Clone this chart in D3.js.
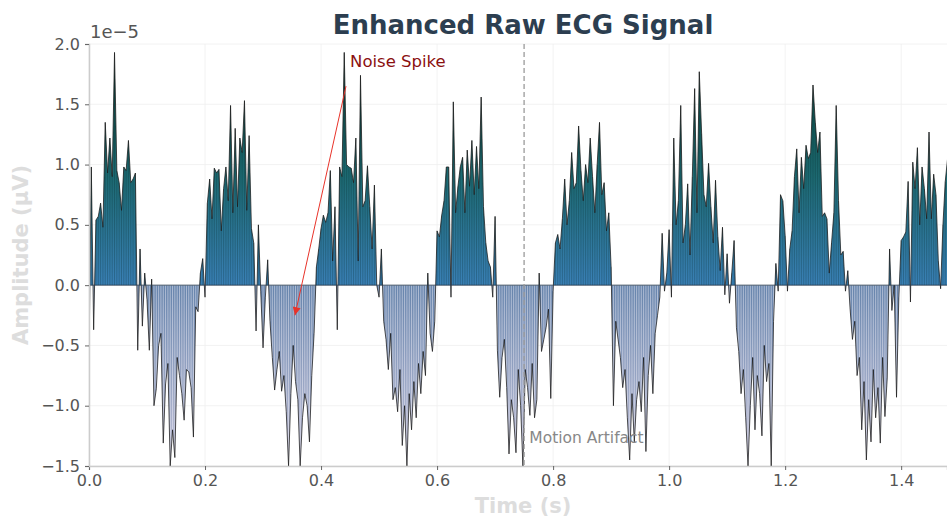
<!DOCTYPE html>
<html>
<head>
<meta charset="utf-8">
<script src="https://cdn.jsdelivr.net/npm/d3@7"></script>
<style>
  body { margin: 0; background: #fff; }
  text { font-family: "DejaVu Sans", sans-serif; }
</style>
</head>
<body>
<div id="chart"></div>
<script>
// sample spacing of the recording (250 Hz)
var sampleStep = 0.004;

// amplitude, in units of 1e-5 (one row per half cycle)
var amplitude = [
  -0.6, 0.98, -0.37, 0.54, 0.57, 0.68, 0.48, 1.35, 0.93, 1.22, 0.9, 1.93, 0.95, 0.85, 0.62, 0.98, 0.95, 1.2, 0.85, 0.88, 0.93,
  -0.54, 0.3, -0.34, 0.1, -0.12, -0.54, 0.05, -1.0, -0.86, -0.5, -0.4, -1.31, -0.82, -0.65, -1.5, -1.2, -1.43, -0.6, -0.75, -0.9, -1.12, -0.7, -0.72, -0.85, -1.26, -0.18, -0.22, 0.1,
  0.22, -0.1, 0.68, 0.88, 0.55, 0.97, 0.93, 0.96, 0.45, 0.8, 0.98, 0.7, 1.49, 0.6, 1.3, 0.65, 1.22, 1.1, 1.53, 0.62, 1.24, 0.47, 0.35,
  -0.38, 0.5, -0.05, -0.52, -0.1, 0.21, -0.3, -0.6, -0.87, -0.7, -0.55, -0.88, -0.75, -1.05, -1.5, -0.9, -0.5, -0.8, -0.95, -1.5, -1.1, -0.9, -1.0, -1.3, -0.75, -0.4,
  0.15, 0.3, 0.47, 0.58, 0.52, 0.6, 0.95, 0.2, 0.65, -0.37, 0.98, 0.9, 1.93, 1.0, 0.98, 0.97, 0.85, 1.22, 0.2, 1.74, 0.65, 0.7, 0.99, 0.65, 0.3, 0.83, 0.0, -0.1, 0.3, -0.3,
  -0.45, -0.7, -0.4, -0.95, -0.85, -1.05, -0.7, -1.33, -1.0, -1.5, -0.9, -1.2, -0.8, -1.1, -0.65, -0.9, -0.55, -0.75, 0.1, -0.4, -0.55, -0.3,
  0.45, 0.4, 0.58, 0.7, 0.98, 0.98, -0.1, 1.52, 0.6, 0.82, 0.98, 1.06, 0.6, 1.12, 0.82, 1.2, 0.75, 1.15, 0.8, 1.56, 0.65, 0.35, 0.2, 0.15, -0.1, 0.57, -0.54,
  -0.93, -0.6, -0.45, -0.85, -1.4, -0.95, -1.1, -1.39, -0.7, -1.0, -1.51, -0.7, -0.85, -1.08, -0.65, -1.1, -0.95, 0.1, -0.55, -0.45, -0.35, -0.2, -0.94, -0.05,
  0.35, 0.42, 0.3, 0.55, 0.88, 0.5, 0.7, 1.1, 0.8, 0.85, 1.32, 0.95, 0.7, 1.0, 0.85, 1.22, 0.9, 0.6, 1.0, 1.35, 0.75, 0.85, 0.45, 0.6, 0.15,
  -1.0, -0.3, -0.45, -0.6, -0.85, -0.7, -1.1, -1.45, -0.9, -1.3, -0.95, -0.8, -1.05, -0.6, -1.38, -0.75, -0.5, -0.9, -0.4, -0.25, -0.1,
  0.43, -0.05, 0.1, 0.46, -0.1, 1.22, 0.5, 0.7, 1.49, 0.35, 0.5, 0.84, 0.25, 0.9, 1.63, 0.6, 1.77, 1.26, 0.75, 0.65, 1.01, 0.65, 0.35, 0.87, 0.4, 0.12, 0.48, -0.08, 0.26, -0.15, 0.1, 0.37,
  -0.35, -0.55, -0.9, -0.7, -1.1, -1.5, -1.0, -0.6, -1.2, -0.75, -0.9, -1.25, -0.5, -0.8, -0.65, -1.5, -0.3, 0.18,
  -0.05, 0.75, 0.7, 0.41, -0.05, 0.3, 0.45, 0.9, 1.13, 0.6, 1.06, 0.8, 1.16, 1.05, 1.1, 1.66, 1.35, 1.1, 1.27, 0.57, 0.6, 0.55, 0.1, 0.35, 0.6, 1.49, 0.7, 0.25, 0.28, -0.05, 0.12,
  -0.2, -0.45, -0.3, -0.75, -0.6, -1.2, -0.8, -1.45, -0.95, -1.3, -0.7, -1.1, -0.85, -1.31, -0.6, -1.09, -0.77, 0.3, -0.21, 0.0, -0.93, -0.1,
  0.37, 0.4, 0.44, 0.86, -0.14, 1.02, 0.8, 1.14, 0.5, 0.98, 0.8, 0.55, 1.27, 0.55, 0.92, 0.75, 0.2, -0.03, 0.5, 0.86, 1.05
];

var xTicks = [0, 0.2, 0.4, 0.6, 0.8, 1.0, 1.2, 1.4];
var yTicks = [-1.5, -1.0, -0.5, 0, 0.5, 1.0, 1.5, 2.0];

// annotations (data coordinates)
var artifactTime = 0.75;
var artifactLabel = { t: 0.759, v: -1.31, text: "Motion Artifact" };
var spikeLabel = { t: 0.45, v: 1.81, text: "Noise Spike" };
var spikeArrow = { t0: 0.443, v0: 1.65, t1: 0.355, v1: -0.25 };

var svgWidth = 947;
var svgHeight = 518;

var margin = { top: 44, right: 0, bottom: 52, left: 89 };
var width = svgWidth - margin.left - margin.right;
var height = svgHeight - margin.top - margin.bottom;

var data = amplitude.map(function(v, i) { return { t: i * sampleStep, v: v }; });

var svg = d3.select("#chart")
  .append("svg")
  .attr("width", svgWidth)
  .attr("height", svgHeight);

var x = d3.scaleLinear().domain([0, 1.479]).range([0, width]);
var y = d3.scaleLinear().domain([-1.5, 2.0]).range([height, 0]);

var defs = svg.append("defs");

var posGrad = defs.append("linearGradient")
  .attr("id", "posGrad")
  .attr("gradientUnits", "userSpaceOnUse")
  .attr("x1", 0).attr("x2", 0)
  .attr("y1", y(0)).attr("y2", y(2.0));
posGrad.append("stop").attr("offset", "0%").attr("stop-color", "#3a80b6");
posGrad.append("stop").attr("offset", "45%").attr("stop-color", "#1d6a72");
posGrad.append("stop").attr("offset", "100%").attr("stop-color", "#073c2e");

var negGrad = defs.append("linearGradient")
  .attr("id", "negGrad")
  .attr("gradientUnits", "userSpaceOnUse")
  .attr("x1", 0).attr("x2", 0)
  .attr("y1", y(0)).attr("y2", y(-1.5));
negGrad.append("stop").attr("offset", "0%").attr("stop-color", "#6684ac");
negGrad.append("stop").attr("offset", "100%").attr("stop-color", "#c4c2d8");

defs.append("clipPath").attr("id", "clipPos")
  .append("rect").attr("x", 0).attr("y", 0).attr("width", width).attr("height", y(0));
defs.append("clipPath").attr("id", "clipNeg")
  .append("rect").attr("x", 0).attr("y", y(0)).attr("width", width).attr("height", height - y(0));
defs.append("clipPath").attr("id", "clipPlot")
  .append("rect").attr("x", 0).attr("y", -2).attr("width", width).attr("height", height + 2);

defs.append("marker")
  .attr("id", "arrowHead")
  .attr("viewBox", "0 0 10 10")
  .attr("refX", 10).attr("refY", 5)
  .attr("markerWidth", 10).attr("markerHeight", 8)
  .attr("markerUnits", "userSpaceOnUse")
  .attr("orient", "auto")
  .append("path")
  .attr("d", "M0,0 L10,5 L0,10 z")
  .attr("fill", "#e8332a");

var chartGroup = svg.append("g")
  .attr("transform", `translate(${margin.left}, ${margin.top})`);

// grid
chartGroup.append("g").selectAll("line.gx")
  .data(xTicks).enter().append("line")
  .attr("x1", d => x(d)).attr("x2", d => x(d))
  .attr("y1", 0).attr("y2", height)
  .attr("stroke", "#efefef").attr("stroke-width", 0.8);
chartGroup.append("g").selectAll("line.gy")
  .data(yTicks).enter().append("line")
  .attr("x1", 0).attr("x2", width)
  .attr("y1", d => y(d)).attr("y2", d => y(d))
  .attr("stroke", "#efefef").attr("stroke-width", 0.8);

var plot = chartGroup.append("g").attr("clip-path", "url(#clipPlot)");

var area = d3.area()
  .x(d => x(d.t))
  .y0(y(0))
  .y1(d => y(d.v));

plot.append("g").attr("clip-path", "url(#clipPos)")
  .append("path").datum(data)
  .attr("d", area)
  .attr("fill", "url(#posGrad)");

plot.append("g").attr("clip-path", "url(#clipNeg)")
  .append("path").datum(data)
  .attr("d", area)
  .attr("fill", "url(#negGrad)");

// vertical stripes at each sample
plot.append("g").selectAll("line")
  .data(data).enter().append("line")
  .attr("x1", d => x(d.t)).attr("x2", d => x(d.t))
  .attr("y1", y(0)).attr("y2", d => y(d.v))
  .attr("stroke", d => d.v >= 0 ? "#08282c" : "#f4f2fa")
  .attr("stroke-opacity", d => d.v >= 0 ? 0.3 : 0.55)
  .attr("stroke-width", 0.9);

// signal line
plot.append("path").datum(data)
  .attr("d", d3.line().x(d => x(d.t)).y(d => y(d.v)))
  .attr("fill", "none")
  .attr("stroke", "#1a1a1a")
  .attr("stroke-opacity", 0.85)
  .attr("stroke-width", 0.9);

// zero baseline
plot.append("line")
  .attr("x1", 0).attr("x2", width)
  .attr("y1", y(0)).attr("y2", y(0))
  .attr("stroke", "#2a3a4a").attr("stroke-width", 0.8);

// motion artifact marker
chartGroup.append("line")
  .attr("x1", x(artifactTime)).attr("x2", x(artifactTime))
  .attr("y1", 0).attr("y2", height)
  .attr("stroke", "#9a9a9a")
  .attr("stroke-width", 1.3)
  .attr("stroke-dasharray", "5,3");

chartGroup.append("text")
  .attr("x", x(artifactLabel.t)).attr("y", y(artifactLabel.v))
  .attr("fill", "#888")
  .style("font-size", "15.5px")
  .text(artifactLabel.text);

// noise spike annotation
chartGroup.append("line")
  .attr("x1", x(spikeArrow.t0)).attr("y1", y(spikeArrow.v0))
  .attr("x2", x(spikeArrow.t1)).attr("y2", y(spikeArrow.v1))
  .attr("stroke", "#e8332a")
  .attr("stroke-width", 1)
  .attr("marker-end", "url(#arrowHead)");

chartGroup.append("text")
  .attr("x", x(spikeLabel.t)).attr("y", y(spikeLabel.v))
  .attr("fill", "#8b1010")
  .style("font-size", "16.5px")
  .text(spikeLabel.text);

// axes
var bottomAxis = d3.axisBottom(x).tickValues(xTicks).tickFormat(d3.format(".1f")).tickSize(4).tickPadding(5);
var leftAxis = d3.axisLeft(y).tickValues(yTicks).tickFormat(d => d3.format(".1f")(d).replace("-", "\u2212")).tickSize(4).tickPadding(5);

var gx = chartGroup.append("g")
  .attr("transform", `translate(0, ${height})`)
  .call(bottomAxis);
var gy = chartGroup.append("g")
  .call(leftAxis);

[gx, gy].forEach(function(g) {
  g.select(".domain").attr("stroke", "#cccccc").attr("stroke-width", 1.5);
  g.selectAll(".tick line").attr("stroke", "#666");
  g.selectAll(".tick text")
    .attr("fill", "#555")
    .style("font-size", "16px")
    .style("font-family", "DejaVu Sans, sans-serif");
});

// offset label
svg.append("text")
  .attr("x", margin.left + 1).attr("y", 38)
  .attr("fill", "#555")
  .style("font-size", "18px")
  .text("1e\u22125");

// title
svg.append("text")
  .attr("x", 523).attr("y", 34)
  .attr("text-anchor", "middle")
  .attr("fill", "#2c3e50")
  .style("font-size", "26px")
  .style("font-weight", "bold")
  .text("Enhanced Raw ECG Signal");

// axis labels
svg.append("text")
  .attr("transform", "rotate(-90)")
  .attr("x", -255).attr("y", 28)
  .attr("text-anchor", "middle")
  .attr("fill", "#dddddd")
  .style("font-size", "21px")
  .style("font-weight", "bold")
  .text("Amplitude (\u00b5V)");

svg.append("text")
  .attr("x", 523).attr("y", 513)
  .attr("text-anchor", "middle")
  .attr("fill", "#dddddd")
  .style("font-size", "21px")
  .style("font-weight", "bold")
  .text("Time (s)");
</script>
</body>
</html>
